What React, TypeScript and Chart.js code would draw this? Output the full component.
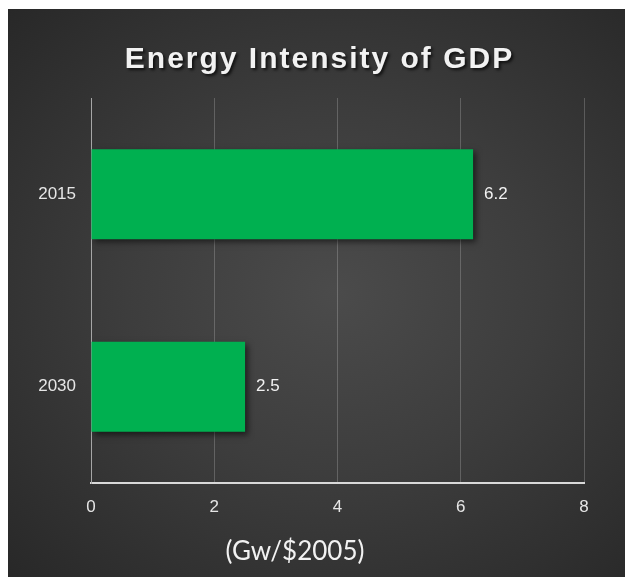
import React, { useEffect, useRef } from "react";
import { Chart, registerables } from "chart.js";

Chart.register(...registerables);

const categories: string[] = ["2015", "2030"];
const values: number[] = [6.2, 2.5];
const xTickValues: number[] = [0, 2, 4, 6, 8];
const chartTitle = "Energy Intensity of GDP";
const axisTitle = "(Gw/$2005)";

export default function App() {
  const ref = useRef<HTMLCanvasElement>(null);

  useEffect(() => {
    if (!ref.current) return;
    const barDecor = {
      id: "barDecor",
      beforeDatasetsDraw(chart: any) {
        const ctx = chart.ctx;
        ctx.save();
        ctx.shadowColor = "rgba(0,0,0,0.55)";
        ctx.shadowBlur = 6;
        ctx.shadowOffsetX = 3;
        ctx.shadowOffsetY = 3;
      },
      afterDatasetsDraw(chart: any) {
        const ctx = chart.ctx;
        ctx.restore();
        const meta = chart.getDatasetMeta(0);
        ctx.save();
        ctx.font = "17px 'Liberation Sans', Arial, sans-serif";
        ctx.fillStyle = "#f2f2f2";
        ctx.textAlign = "left";
        ctx.textBaseline = "middle";
        meta.data.forEach((bar: any, i: number) => {
          ctx.fillText(String(values[i]), bar.x + 11, bar.y);
        });
        ctx.restore();
      },
    };

    const chart = new Chart(ref.current, {
      type: "bar",
      data: {
        labels: categories,
        datasets: [
          {
            data: values,
            backgroundColor: "#00B050",
            borderWidth: 0,
            categoryPercentage: 1,
            barPercentage: 0.468,
          },
        ],
      },
      options: {
        indexAxis: "y",
        animation: false,
        responsive: true,
        maintainAspectRatio: false,
        layout: { padding: { top: 89, right: 41, bottom: 54, left: 0 } },
        plugins: {
          legend: { display: false },
          title: { display: false },
          tooltip: { enabled: false },
        },
        scales: {
          x: {
            type: "linear",
            min: 0,
            max: 8,
            afterBuildTicks: (s: any) => {
              s.ticks = xTickValues.map((v) => ({ value: v }));
            },
            afterFit: (s: any) => {
              s.height = 40;
            },
            ticks: {
              color: "#e6e6e6",
              font: { family: "'Liberation Sans', Arial, sans-serif", size: 17 },
              padding: 14,
            },
            grid: {
              color: "rgba(255,255,255,0.2)",
              lineWidth: 1,
              drawTicks: false,
            },
            border: { color: "#d9d9d9", width: 2 },
          },
          y: {
            type: "category",
            afterFit: (s: any) => {
              s.width = 83;
            },
            ticks: {
              color: "#e6e6e6",
              font: { family: "'Liberation Sans', Arial, sans-serif", size: 17 },
              padding: 15,
            },
            grid: { display: false, drawTicks: false },
            border: { color: "#a6a6a6", width: 1 },
          },
        },
      },
      plugins: [barDecor],
    } as any);

    return () => chart.destroy();
  }, []);

  return (
    <div
      style={{
        position: "fixed",
        left: 8,
        top: 9,
        width: 617,
        height: 568,
        background:
          "radial-gradient(ellipse at 53% 50%, #4b4b4b 0%, #3d3d3d 45%, #282828 100%)",
        overflow: "hidden",
      }}
    >
      <div
        style={{
          position: "absolute",
          left: 0,
          right: 0,
          top: 34,
          paddingLeft: 6,
          textAlign: "center",
          fontFamily: "'Liberation Sans', Arial, sans-serif",
          fontWeight: "bold",
          fontSize: 30,
          lineHeight: "30px",
          letterSpacing: 2,
          color: "#f2f2f2",
          textShadow: "2px 2px 3px rgba(0,0,0,0.7)",
          whiteSpace: "nowrap",
          zIndex: 2,
        }}
      >
        {chartTitle}
      </div>
      <div
        style={{
          position: "absolute",
          left: 287,
          top: 528,
          transform: "translateX(-50%)",
          fontFamily: "Lato, 'Open Sans', sans-serif",
          fontSize: 26,
          lineHeight: "26px",
          color: "#f2f2f2",
          whiteSpace: "nowrap",
          zIndex: 2,
        }}
      >
        {axisTitle}
      </div>
      <div style={{ position: "absolute", left: 0, top: 0, width: 617, height: 568 }}>
        <canvas ref={ref} />
      </div>
    </div>
  );
}
